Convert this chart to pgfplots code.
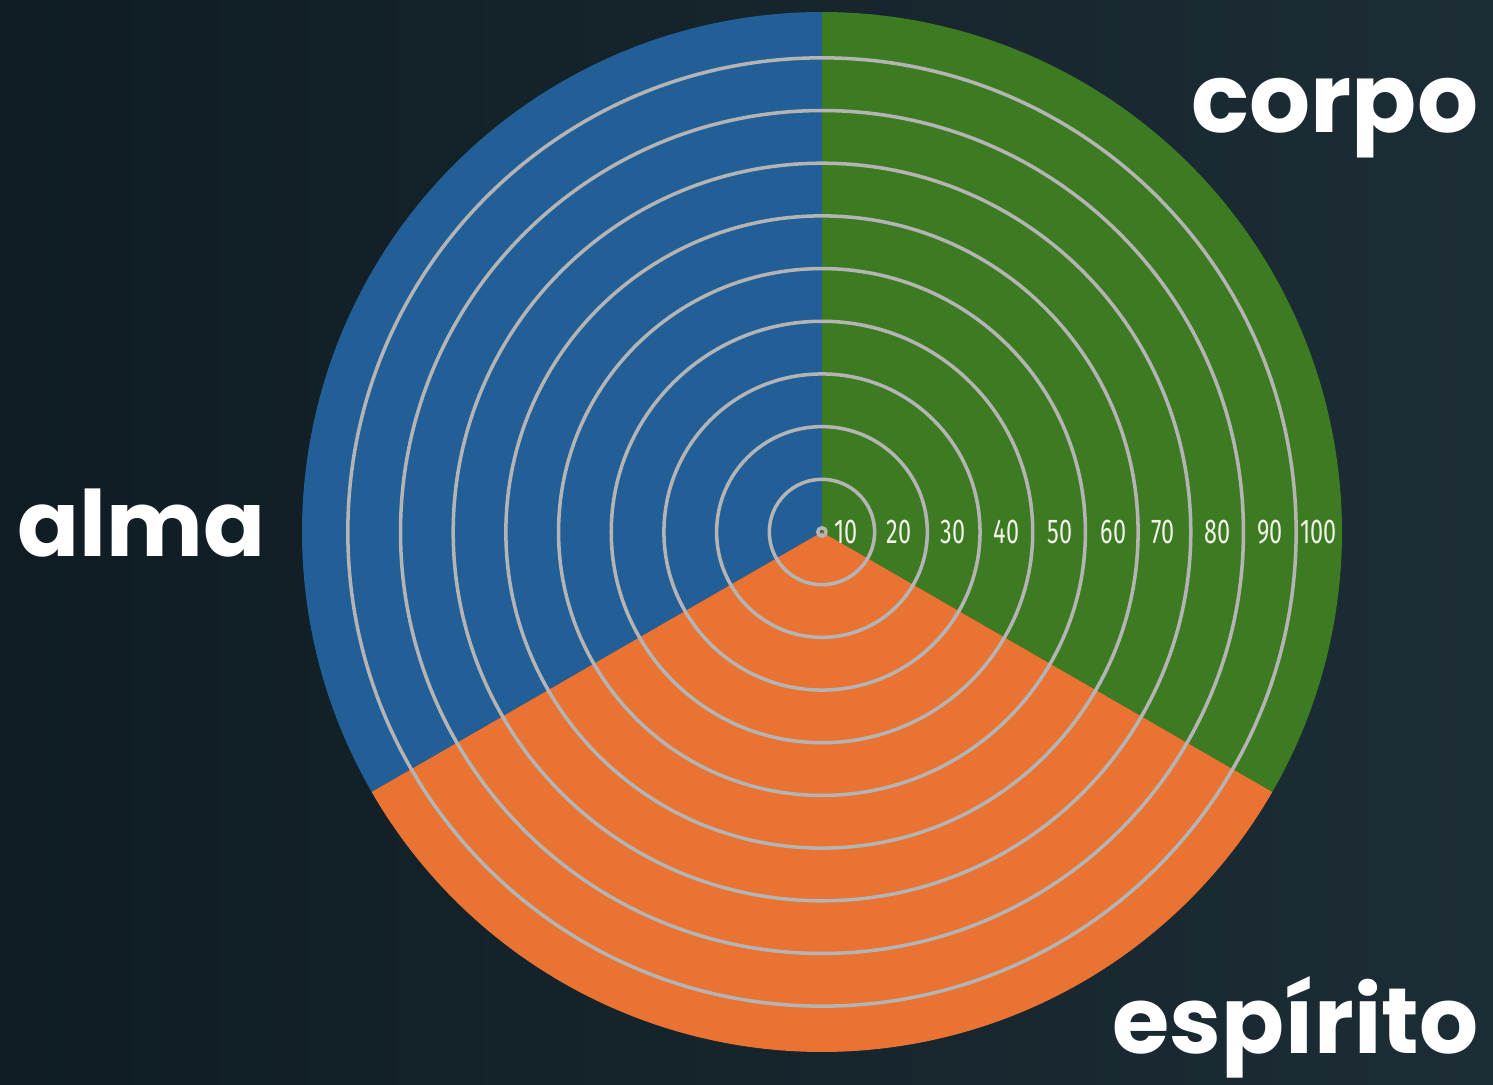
\documentclass[border=0pt]{standalone}
\usepackage{pgfplots}
\pgfplotsset{compat=1.18}
\usepackage{pgfplotstable}
\usepgfplotslibrary{polar}
\usepackage{fontspec}
\setmainfont{Poppins}
\newfontfamily\tickfont{Fira Sans}
\definecolor{bgL}{HTML}{0F1C23}
\definecolor{bgR}{HTML}{1D2D35}
\definecolor{corpo}{HTML}{3D7B23}
\definecolor{alma}{HTML}{235F97}
\definecolor{espirito}{HTML}{E97333}
\definecolor{ring}{HTML}{B4B4B4}
\definecolor{numtxt}{HTML}{F2F2EA}

% sectors: start angle, end angle, radius
\pgfplotstableread{
name     a0   a1   r
corpo   -30   90  98.7
alma     90  210  98.7
espirito 210 330  98.7
}\sectors

\pgfplotstableread{
a r label
0 4.5 10
0 14.6 20
0 24.9 30
0 35.0 40
0 45.2 50
0 55.3 60
0 64.8 70
0 75.1 80
0 85.0 90
0 94.3 100
}\ringlabels

\begin{document}
\begin{tikzpicture}[x=0.1mm,y=0.1mm]
\useasboundingbox (0,0) rectangle (1493,1085);
\shade[left color=bgL, right color=bgR] (0,0) rectangle (1493,1085);
\begin{polaraxis}[
  at={(82.2mm,55.3mm)}, anchor=center,
  scale only axis, width=104mm, height=104mm,
  xmin=0, xmax=360, ymin=0, ymax=98.7,
  axis line style={draw=none},
  xtick=\empty,
  ytick={0.8,10,20,30,40,50,60,70,80,90}, yticklabels={},
  major tick length=0pt,
  ymajorgrids, y grid style={ring, line width=1.0pt},
  axis on top,
  clip=false,
]
\addplot[draw=none, fill=corpo, domain=-30:90, samples=121] {98.7} -- (axis cs:0,0) -- cycle;
\addplot[draw=none, fill=alma, domain=90:210, samples=121] {98.7} -- (axis cs:0,0) -- cycle;
\addplot[draw=none, fill=espirito, domain=210:330, samples=121] {98.7} -- (axis cs:0,0) -- cycle;
\addplot[draw=none, mark=none, nodes near coords={\scalebox{0.68}[1]{\pgfplotspointmeta}},
  point meta=explicit symbolic,
  nodes near coords style={anchor=center, inner sep=0pt, text=numtxt,
    font=\tickfont\fontsize{9.8}{9.8}\selectfont}]
  table[x=a, y=r, meta=label] {\ringlabels};
\end{polaraxis}
\node[anchor=base west, inner sep=0pt, text=white, font=\bfseries\fontsize{27.3}{27.3}\selectfont] at (1191,952) {corpo};
\node[anchor=base west, inner sep=0pt, text=white, font=\bfseries\fontsize{26}{26}\selectfont] at (17,528) {alma};
\node[anchor=base west, inner sep=0pt, text=white, font=\bfseries\fontsize{26.4}{26.4}\selectfont] at (1112,31) {espírito};
\end{tikzpicture}
\end{document}
